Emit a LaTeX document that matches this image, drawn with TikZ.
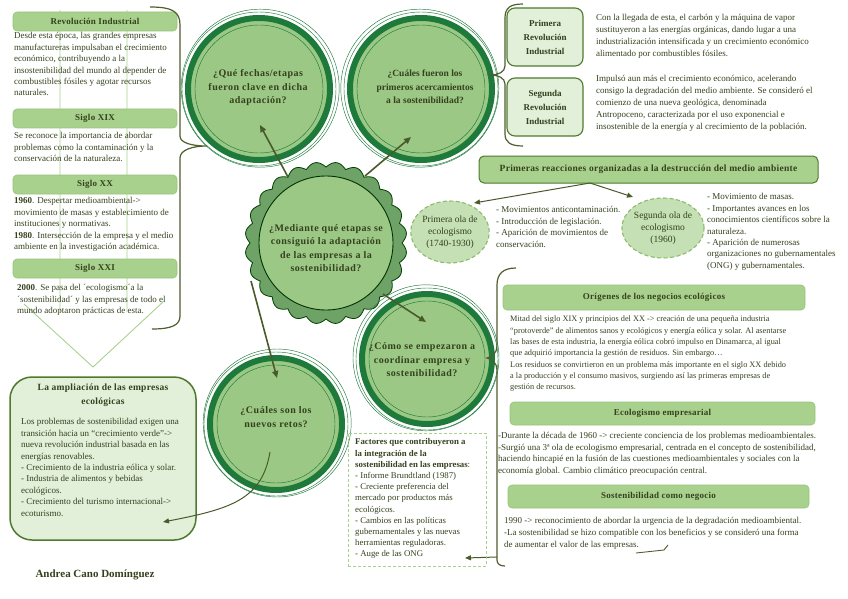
\documentclass[tikz,border=0pt]{standalone}
\usepackage{fontspec}
\setmainfont{Liberation Serif}
\newfontfamily\qfont{Liberation Serif}[LetterSpace=5]
\newfontfamily\hfont{Liberation Serif}[LetterSpace=3]
\usetikzlibrary{arrows.meta,shapes.geometric,calc}
\definecolor{tcol}{HTML}{34411D}
\definecolor{hfill}{HTML}{A9D18E}
\definecolor{hline}{HTML}{97C37A}
\definecolor{lfill}{HTML}{E2EFD9}
\definecolor{lline}{HTML}{4E7A2E}
\definecolor{cfill}{HTML}{9CC886}
\definecolor{ring}{HTML}{1E7A3A}
\definecolor{starfill}{HTML}{6EA266}
\definecolor{acol}{HTML}{4A5A2B}
\definecolor{bcol}{HTML}{4F5E2E}
\definecolor{dfill}{HTML}{C5E0B4}
\definecolor{dline}{HTML}{8DBA6E}
\tikzset{
  txt/.style={font=\fontsize{9}{11.4}\selectfont, text=tcol, align=left, inner sep=0pt, anchor=north west},
  hdr/.style={rounded corners=4pt, fill=hfill, draw=hline, line width=0.6pt, font=\hfont\bfseries\fontsize{9}{10}\selectfont, text=tcol, inner sep=0pt},
  lbox/.style={rounded corners=8pt, fill=lfill, draw=lline, line width=1.1pt, font=\bfseries\fontsize{9}{14}\selectfont, text=tcol, align=center, inner sep=0pt},
  qcirc/.style={circle, fill=cfill, draw=ring, line width=6pt, inner sep=0pt, minimum size=#1},
  qtext/.style={font=\qfont\bfseries\fontsize{10}{13.5}\selectfont, text=tcol, align=center, inner sep=0pt},
  thinring/.style={draw=ring, line width=0.45pt},
  arr/.style={draw=acol, line width=1.6pt, -{Triangle[length=7pt,width=6pt]}},
  thinarr/.style={draw=acol, line width=1pt, -{Triangle[length=6pt,width=5pt]}},
  brace/.style={draw=bcol, line width=1.2pt},
  dcirc/.style={ellipse, fill=dfill, draw=dline, line width=1.1pt, dash pattern=on 4pt off 2.5pt, inner sep=0pt, font=\fontsize{9.5}{12}\selectfont, text=tcol, align=center},
}
\begin{document}
\begin{tikzpicture}[x=1pt,y=-1pt]
\useasboundingbox (0,0) rectangle (848,599);

% background down arrow outline
\draw[hfill, line width=0.9pt] (60,10) -- (60,312) (127,10) -- (127,312)
  (24,304) -- (93,367) -- (163,302);

% left column
\node[hdr, minimum width=164pt, minimum height=19pt] (h1) at (95,21.5) {Revolución Industrial};
\node[txt] (t1) at (14,32.5) {Desde esta época, las grandes empresas\\manufactureras impulsaban el crecimiento\\económico, contribuyendo a la\\insostenibilidad del mundo al depender de\\combustibles fósiles y agotar recursos\\naturales.};
\node[hdr, minimum width=164pt, minimum height=19pt] (h2) at (95,118.5) {Siglo XIX};
\node[txt] (t2) at (14,132.5) {Se reconoce la importancia de abordar\\problemas como la contaminación y la\\conservación de la naturaleza.};
\node[hdr, minimum width=164pt, minimum height=19pt] (h3) at (95,184.5) {Siglo XX};
\node[txt] (t3) at (14,197.5) {\textbf{1960}. Despertar medioambiental->\\movimiento de masas y establecimiento de\\instituciones y normativas.\\\textbf{1980}. Intersección de la empresa y el medio\\ambiente en la investigación académica.};
\node[hdr, minimum width=164pt, minimum height=19pt] (h4) at (95,268.5) {Siglo XXI};
\node[txt] (t4) at (17,284.5) {\textbf{2000}. Se pasa del ´ecologismo´a la\\´sostenibilidad´ y las empresas de todo el\\mundo adoptaron prácticas de esta.};

% left brace
\coordinate (lb) at (207,146);
\draw[brace] (150,7) .. controls (173,7) and (180,12) .. (180,25) -- (180,136)
  .. controls (180,143) and (192,146) .. (lb)
  .. controls (192,146) and (180,150) .. (180,158) -- (180,316)
  .. controls (180,325) and (172,329) .. (152,329);

% bottom-left box
\node[draw=lline, line width=1.5pt, fill=lfill, rounded corners=22pt, minimum width=186pt, minimum height=163pt, inner sep=0pt] (amp) at (103,458.5) {};
\node[font=\hfont\bfseries\fontsize{9.5}{13.5}\selectfont, text=tcol, align=center, inner sep=0pt] (ampt) at (103,395) {La ampliación de las empresas\\ecológicas};
\node[txt] (ampx) at (21,418.5) {Los problemas de sostenibilidad exigen una\\transición hacia un “crecimiento verde”->\\nueva revolución industrial basada en las\\energías renovables.\\- Crecimiento de la industria eólica y solar.\\- Industria de alimentos y bebidas\\ecológicos.\\- Crecimiento del turismo internacional->\\ecoturismo.};

\node[font=\bfseries\fontsize{11}{12}\selectfont, text=tcol, inner sep=0pt] (auth) at (95,575) {Andrea Cano Domínguez};

% star
\begin{scope}[shift={(326,243)}]
\filldraw[fill=starfill, draw=black!75!green, line width=0.8pt] plot[domain=0:360, samples=721] (\x:{76+5*abs(sin(12*\x))}) -- cycle;
\end{scope}
\node[circle, fill=cfill, draw=black!80!green, line width=0.9pt, minimum size=134pt, inner sep=0pt] (st) at (326,243) {};
\node[qtext] (stt) at (326,248) {¿Mediante qué etapas se\\consiguió la adaptación\\de las empresas a la\\sostenibilidad?};

% circle 1
\node[qcirc=142pt] (c1) at (259,89) {};
\draw[thinring] (c1.center) circle[radius=77];
\draw[thinring] ($(c1.center)+(1.2,-0.8)$) circle[radius=79];
\draw[thinring] (c1.center) circle[radius=64];
\node[qtext] (c1t) at (258,88) {¿Qué fechas/etapas\\fueron clave en dicha\\adaptación?};

% circle 2
\node[qcirc=142pt] (c2) at (421,89) {};
\draw[thinring] (c2.center) circle[radius=77];
\draw[thinring] ($(c2.center)+(-1.2,-0.8)$) circle[radius=79];
\draw[thinring] (c2.center) circle[radius=64];
\node[qtext, font=\bfseries\fontsize{9.5}{13.5}\selectfont] (c2t) at (425,87) {¿Cuáles fueron los\\primeros acercamientos\\a la sostenibilidad?};

% circle 3
\node[qcirc=130pt] (c3) at (427,359) {};
\draw[thinring] (c3.center) circle[radius=71];
\draw[thinring] ($(c3.center)+(-1,-1.2)$) circle[radius=73];
\draw[thinring] (c3.center) circle[radius=58];
\node[qtext] (c3t) at (422,360) {¿Cómo se empezaron a\\coordinar empresa y\\sostenibilidad?};

% circle 4
\node[qcirc=132pt] (c4) at (276,424) {};
\draw[thinring] (c4.center) circle[radius=72];
\draw[thinring] ($(c4.center)+(1.2,-1)$) circle[radius=74];
\draw[thinring] (c4.center) circle[radius=59];
\node[qtext] (c4t) at (276,417) {¿Cuáles son los\\nuevos retos?};

% arrows from star
\coordinate (s1) at (288,177);
\coordinate (s2) at (365,176);
\coordinate (s3) at (383,294);
\coordinate (s4) at (251,281);
\coordinate (e1) at (260,125);
\coordinate (e2) at (411,137);
\coordinate (e3) at (426,322);
\coordinate (e4) at (277,378);
\draw[arr] (s1) -- (e1);
\draw[arr] (s2) -- (e2);
\draw[arr] (s3) -- (e3);
\draw[arr] (s4) -- (e4);
\coordinate (c4s) at (270,452);
\coordinate (ampe) at (163,522);
\draw[thinarr] (c4s) .. controls (262,500) and (230,509) .. (ampe);

% top right
\coordinate (rb) at (491,75);
\draw[brace] (523,4) .. controls (510,4) and (505,8) .. (505,18) -- (505,66)
  .. controls (505,72) and (498,75) .. (rb)
  .. controls (498,75) and (505,78) .. (505,84) -- (505,134)
  .. controls (505,142) and (510,146) .. (523,146);
\node[lbox, minimum width=76pt, minimum height=58pt] (pri) at (545,37) {Primera\\Revolución\\Industrial};
\node[lbox, minimum width=76pt, minimum height=58pt] (seg) at (545,107) {Segunda\\Revolución\\Industrial};
\node[txt, font=\fontsize{9}{12}\selectfont] (prit) at (596,14.5) {Con la llegada de esta, el carbón y la máquina de vapor\\sustituyeron a las energías orgánicas, dando lugar a una\\industrialización intensificada y un crecimiento económico\\alimentado por combustibles fósiles.};
\node[txt, font=\fontsize{9}{12}\selectfont] (segt) at (596,75.5) {Impulsó aun más el crecimiento económico, acelerando\\consigo la degradación del medio ambiente. Se consideró el\\comienzo de una nueva geológica, denominada\\Antropoceno, caracterizada por el uso exponencial e\\insostenible de la energía y al crecimiento de la población.};

% primeras reacciones
\node[hdr, draw=lline, line width=1pt, rounded corners=5pt, minimum width=339pt, minimum height=27pt, font=\hfont\bfseries\fontsize{9.5}{10}\selectfont] (pr) at (648.5,169.5) {Primeras reacciones organizadas a la destrucción del medio ambiente};
\node[dcirc, minimum width=76pt, minimum height=62pt] (o1) at (450,232) {Primera ola de\\ecologismo\\(1740-1930)};
\node[dcirc, minimum width=72pt, minimum height=60pt] (o2) at (663,228) {Segunda ola de\\ecologismo\\(1960)};
\coordinate (prs) at (590,183);
\coordinate (o1e) at (474,203);
\coordinate (o2e) at (633,197);
\draw[thinarr] (prs) -- (o1e);
\draw[thinarr] (prs) -- (o2e);
\node[txt] (o1t) at (496,206.5) {- Movimientos anticontaminación.\\- Introducción de legislación.\\- Aparición de movimientos de\\conservación.};
\node[txt] (o2t) at (707,193.5) {- Movimiento de masas.\\- Importantes avances en los\\conocimientos científicos sobre la\\naturaleza.\\- Aparición de numerosas\\organizaciones no gubernamentales\\(ONG) y gubernamentales.};

% right big brace
\coordinate (bb) at (487,358);
\coordinate (bbot) at (497,557);
\draw[brace] (516,268) .. controls (503,268) and (497,274) .. (497,285) -- (497,346)
  .. controls (497,353) and (492,357) .. (bb)
  .. controls (492,359) and (497,363) .. (497,370) -- (bbot) -- (497,560)
  .. controls (497,564) and (500,566) .. (505,566);
\coordinate (fae) at (465,558);
\draw[thinarr] (bbot) -- (fae);

% right sections
\node[hdr, minimum width=302pt, minimum height=25pt] (og) at (654,297.5) {Orígenes de los negocios ecológicos};
\node[txt, font=\fontsize{8.3}{11.3}\selectfont] (ogt) at (510,316) {Mitad del siglo XIX y principios del XX -> creación de una pequeña industria\\“protoverde” de alimentos sanos y ecológicos y energía eólica y solar. Al asentarse\\las bases de esta industria, la energía eólica cobró impulso en Dinamarca, al igual\\que adquirió importancia la gestión de residuos. Sin embargo…\\Los residuos se convirtieron en un problema más importante en el siglo XX debido\\a la producción y el consumo masivos, surgiendo así las primeras empresas de\\gestión de recursos.};
\node[hdr, minimum width=305pt, minimum height=23pt] (ee) at (662.5,413.5) {Ecologismo empresarial};
\node[txt] (eet) at (498,432.5) {-Durante la década de 1960 -> creciente conciencia de los problemas medioambientales.\\-Surgió una 3ª ola de ecologismo empresarial, centrada en el concepto de sostenibilidad,\\haciendo hincapié en la fusión de las cuestiones medioambientales y sociales con la\\economía global. Cambio climático preocupación central.};
\node[hdr, minimum width=301pt, minimum height=23pt] (sn) at (658.5,496.5) {Sostenibilidad como negocio};
\node[txt, font=\fontsize{9}{12}\selectfont] (snt) at (504,517.5) {1990 -> reconocimiento de abordar la urgencia de la degradación medioambiental.\\-La sostenibilidad se hizo compatible con los beneficios y se consideró una forma\\de aumentar el valor de las empresas.};
\draw[brace, line width=0.9pt] (636,553) -- (664,550) -- (668,545);

% factores box
\node[draw=hfill, line width=1pt, dash pattern=on 3pt off 2pt, minimum width=138pt, minimum height=133pt, inner sep=0pt] (fa) at (417,499.5) {};
\node[txt, font=\fontsize{8.8}{11.2}\selectfont] (fat) at (355,438.5) {\textbf{Factores que contribuyeron a}\\\textbf{la integración de la}\\\textbf{sostenibilidad en las empresas}:\\- Informe Brundtland (1987)\\- Creciente preferencia del\\mercado por productos más\\ecológicos.\\- Cambios en las políticas\\gubernamentales y las nuevas\\herramientas reguladoras.\\- Auge de las ONG};
\end{tikzpicture}
\end{document}
